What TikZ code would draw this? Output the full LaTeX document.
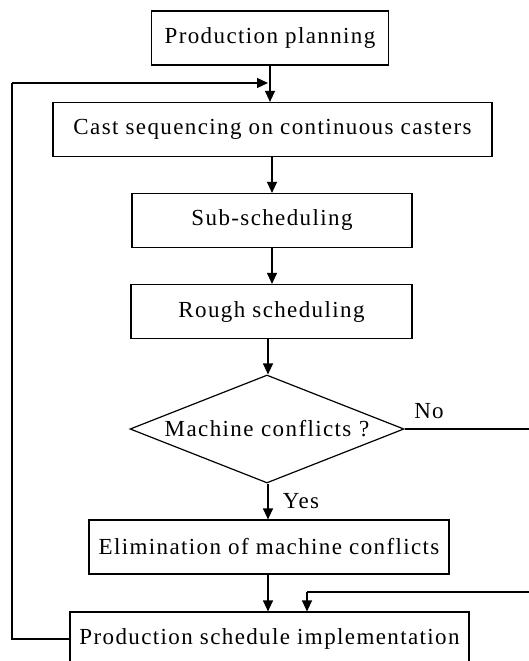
\documentclass[tikz,border=0pt]{standalone}
\usepackage{fontspec}
\setmainfont{Liberation Serif}[LetterSpace=6,Ligatures=NoCommon]
\usetikzlibrary{arrows.meta,shapes.geometric}
\begin{document}
\begin{tikzpicture}[x=1pt,y=-1pt,
  every node/.style={font=\fontsize{23}{27}\selectfont},
  stepbox/.style={draw,line width=1.2pt,rectangle,inner sep=0pt,
    minimum height=54pt},
  decision/.style={draw,line width=1.2pt,diamond,aspect=2.54,inner sep=0pt,
    minimum width=274pt,minimum height=108pt},
  flow/.style={line width=1.2pt,-{Triangle[width=10pt,length=11pt]}},
  link/.style={line width=1.2pt}]
\useasboundingbox (0,0) rectangle (529,661);
\clip (0,0) rectangle (529,661);

% process steps
\node[stepbox,minimum width=237pt] (plan) at (270,38) {Production planning};
\node[stepbox,minimum width=439pt] (cast) at (272.5,129.5) {Cast sequencing on continuous casters};
\node[stepbox,minimum width=280pt] (sub) at (272,220.5) {Sub-scheduling};
\node[stepbox,minimum width=281pt] (rough) at (271.5,311.5) {Rough scheduling};
\node[decision,text width=220pt,align=center] (conf) at (267,429) {Machine conflicts ?};
\node[stepbox,minimum width=360pt] (elim) at (269,547) {Elimination of machine conflicts};
\node[stepbox,minimum width=399pt] (impl) at (269.5,639) {Production schedule implementation};

% labels on the decision branches
\node (no) at (429,411) {No};
\node (yes) at (301,501) {Yes};

% helper points of the routed connectors
\coordinate (join) at (270,83);
\coordinate (fbL) at (12,639);
\coordinate (fbT) at (12,83);
\coordinate (noR) at (536,429);
\coordinate (noB) at (536,592);
\coordinate (noIn) at (307,592);

% main flow
\draw[flow] (plan.south -| join) -- (cast.north -| join);
\draw[flow] (cast.south -| 272,0) -- (sub.north -| 272,0);
\draw[flow] (sub.south -| 272,0) -- (rough.north -| 272,0);
\draw[flow] (rough.south -| 268,0) -- (conf.north -| 268,0);
\draw[flow] (conf.south -| 268,0) -- (elim.north -| 268,0);
\draw[flow] (elim.south -| 268,0) -- (impl.north -| 268,0);

% "No" branch runs round the right side
\draw[link] (conf.east) -- (noR) -- (noB) -- (noIn);
\draw[flow] (noIn) -- (impl.north -| noIn);

% feedback loop from implementation back to cast sequencing
\draw[link] (impl.west) -- (fbL) -- (fbT);
\draw[flow] (fbT) -- ([xshift=-2pt]join);
\end{tikzpicture}
\end{document}
